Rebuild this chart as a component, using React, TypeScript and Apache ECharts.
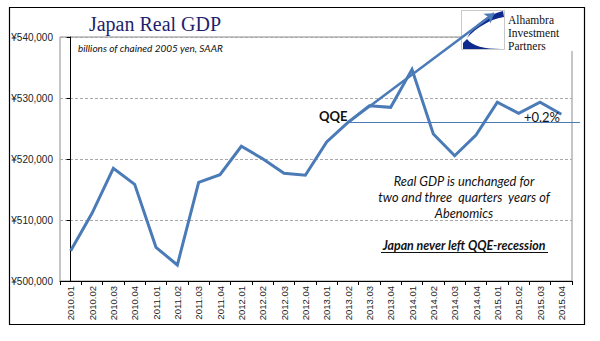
import React, { useEffect, useRef } from 'react';
import * as echarts from 'echarts';

const categories = [
  '2010.01', '2010.02', '2010.03', '2010.04',
  '2011.01', '2011.02', '2011.03', '2011.04',
  '2012.01', '2012.02', '2012.03', '2012.04',
  '2013.01', '2013.02', '2013.03', '2013.04',
  '2014.01', '2014.02', '2014.03', '2014.04',
  '2015.01', '2015.02', '2015.03', '2015.04',
];
const realGdp = [
  504970, 511100, 518470, 515850,
  505520, 502620, 516180, 517430,
  522080, 520050, 517650, 517330,
  522800, 526000, 528740, 528470,
  534700, 524100, 520540, 523930,
  529300, 527490, 529300, 527330,
];
const yMin = 500000;
const yMax = 540000;
const yStep = 10000;
// QQE reference level (start index, end index as fractional category positions)
const qqeLevel = 526000;
const qqeSpan = [13, 23.87];
// Trend arrow from the QQE start upward
const trendFrom = [13, 526000];
const trendTo = [19.85, 543900];
const logoLines = ['Alhambra', 'Investment', 'Partners'];

const BLUE = '#4a7bb7';

const logoTopPath = 'M42 1 L43 7 C30 9 16 17 6 28 C13 15 26 5 42 1 Z';
const logoBottomPath = 'M6 29 C11 36 24 39 40 39 L2 39 L2 33 Z';
let registered = false;
function registerLogo() {
  if (registered) return;
  registered = true;
  echarts.graphic.registerShape('logoTop', echarts.graphic.extendPath(logoTopPath, {}));
  echarts.graphic.registerShape('logoBottom', echarts.graphic.extendPath(logoBottomPath, {}));
}

export default function App() {
  const ref = useRef<HTMLDivElement>(null);
  useEffect(() => {
    if (!ref.current) return;
    registerLogo();
    const chart = echarts.init(ref.current, undefined, { renderer: 'svg' });
    const calibri = 'Lato, "Open Sans", sans-serif';
    chart.setOption({
      animation: false,
      backgroundColor: '#ffffff',
      grid: {
        left: 60, right: 28, top: 37, bottom: 60,
        show: true, borderColor: '#8c8c8c', borderWidth: 1,
      },
      xAxis: [
        {
          type: 'category',
          data: categories,
          boundaryGap: true,
          axisLine: { lineStyle: { color: '#000', width: 1 } },
          axisTick: { show: true, length: 4, lineStyle: { color: '#000' } },
          axisLabel: {
            rotate: 90, fontSize: 9.5, color: '#222', margin: 5,
            fontFamily: '"Liberation Sans", sans-serif',
          },
          splitLine: { show: false },
        },
        {
          type: 'value', min: -0.5, max: 23.5, show: false,
          splitLine: { show: false },
        },
      ],
      yAxis: {
        type: 'value',
        min: yMin, max: yMax, interval: yStep,
        axisLine: { show: true, lineStyle: { color: '#000', width: 1 } },
        axisTick: { show: true, length: 4, lineStyle: { color: '#000' } },
        axisLabel: {
          fontSize: 10, color: '#222', margin: 7,
          fontFamily: '"Liberation Sans", sans-serif',
          formatter: (v: number) => '\u00a5' + v.toLocaleString('en-US'),
        },
        splitLine: { show: true, lineStyle: { color: '#a8a8a8', type: [3, 2], width: 1 } },
      },
      series: [
        {
          type: 'lines',
          coordinateSystem: 'cartesian2d',
          xAxisIndex: 1, yAxisIndex: 0,
          clip: false,
          z: 3,
          symbol: ['none', 'none'],
          lineStyle: { color: BLUE, width: 1, opacity: 1 },
          data: [{ coords: [[qqeSpan[0], qqeLevel], [qqeSpan[1], qqeLevel]] }],
        },
        {
          type: 'line',
          data: realGdp,
          symbol: 'none',
          z: 4,
          lineStyle: { color: BLUE, width: 3, join: 'miter' },
        },
        {
          type: 'lines',
          coordinateSystem: 'cartesian2d',
          xAxisIndex: 1, yAxisIndex: 0,
          clip: false,
          z: 5,
          symbol: ['none', 'arrow'],
          symbolSize: [0, 9],
          lineStyle: { color: BLUE, width: 2.5, opacity: 1 },
          data: [{ coords: [trendFrom, trendTo] }],
        },
      ],
      graphic: [
        { type: 'rect', z: 1, shape: { x: 461, y: 9, width: 123, height: 42 }, style: { fill: '#fff' } },
        { type: 'rect', z: 1, shape: { x: 461.5, y: 10.5, width: 43, height: 39 }, style: { fill: '#fff', stroke: '#c8c8c8', lineWidth: 1 } },
        { type: 'logoTop', z: 1, x: 461, y: 10, style: { fill: '#0f2a8f' } },
        { type: 'logoBottom', z: 1, x: 461, y: 10, style: { fill: '#0f2a8f' } },
        ...logoLines.map((t, i) => ({
          type: 'text', z: 1, x: 508, y: 20 + i * 13.2,
          style: {
            text: t, fill: '#111', font: '11.5px "Liberation Serif", serif',
            align: 'left', verticalAlign: 'middle',
          },
        })),
        {
          type: 'rect', z: 10, shape: { x: 9.5, y: 7.5, width: 575, height: 317 },
          style: { fill: 'none', stroke: '#000', lineWidth: 1.2 },
        },
        {
          type: 'text', z: 10, x: 155, y: 24,
          style: {
            text: 'Japan Real GDP', fill: '#1f1f6e', font: '20px "Liberation Serif", serif',
            align: 'center', verticalAlign: 'middle',
          },
        },
        {
          type: 'text', z: 10, x: 78, y: 48,
          style: {
            text: 'billions of chained 2005 yen, SAAR', fill: '#111', font: 'italic 10px ' + calibri,
            align: 'left', verticalAlign: 'middle',
          },
        },
        {
          type: 'text', z: 10, x: 319, y: 116,
          style: { text: 'QQE', fill: '#111', font: 'bold 13px ' + calibri, align: 'left', verticalAlign: 'middle' },
        },
        {
          type: 'text', z: 10, x: 560, y: 117,
          style: { text: '+0.2%', fill: '#111', font: '13px ' + calibri, align: 'right', verticalAlign: 'middle' },
        },
        {
          type: 'text', z: 10, x: 464, y: 197,
          style: {
            text: 'Real GDP is unchanged for\ntwo and three  quarters  years of\nAbenomics',
            fill: '#111', font: 'italic 12.8px ' + calibri, align: 'center', verticalAlign: 'middle', lineHeight: 16,
          },
        },
        {
          type: 'text', z: 10, x: 464, y: 245,
          style: {
            text: 'Japan never left QQE-recession', fill: '#111', font: 'italic bold 12.4px ' + calibri,
            align: 'center', verticalAlign: 'middle',
          },
        },
        {
          type: 'line', z: 10, shape: { x1: 381, y1: 252.5, x2: 548, y2: 252.5 },
          style: { stroke: '#111', lineWidth: 1 },
        },
      ],
    });
    return () => chart.dispose();
  }, []);
  return <div ref={ref} style={{ position: 'fixed', left: 0, top: 0, width: 600, height: 341 }} />;
}
